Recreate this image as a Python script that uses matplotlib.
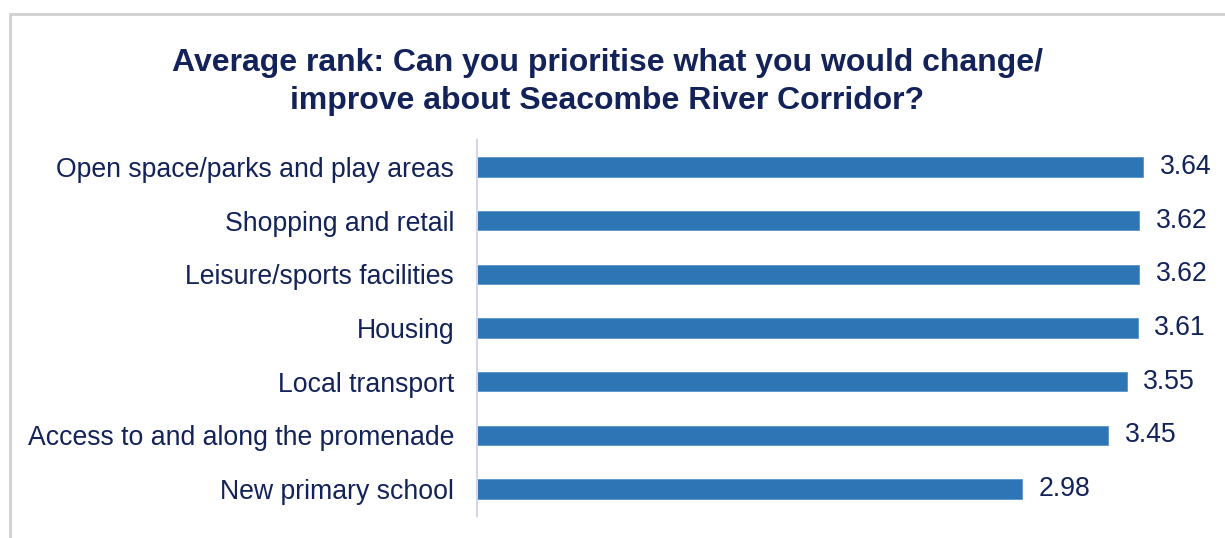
import matplotlib
matplotlib.use("Agg")
from matplotlib import pyplot as plt
from matplotlib.patches import Rectangle

categories = [
    "Open space/parks and play areas",
    "Shopping and retail",
    "Leisure/sports facilities",
    "Housing",
    "Local transport",
    "Access to and along the promenade",
    "New primary school",
]
values = [3.64, 3.62, 3.62, 3.61, 3.55, 3.45, 2.98]
value_labels = ["3.64", "3.62", "3.62", "3.61", "3.55", "3.45", "2.98"]

plt.rcParams['font.family'] = ['Liberation Sans', 'DejaVu Sans']
navy = '#13235A'
bar_color = '#2E75B6'

fig = plt.figure(figsize=(12.25, 5.38), dpi=100)
fig.patches.append(Rectangle((10/1225, -0.1), 1.2, (538-14)/538 + 0.1,
                             transform=fig.transFigure, fill=False,
                             edgecolor='#D0D0D0', linewidth=2))

ax = fig.add_axes([477/1225, 1-516/538, (1209-477)/1225, (516-140)/538])
y = list(range(len(categories)))
ax.barh(y, values, height=0.36, color=bar_color, edgecolor='#5A95CC', linewidth=0.6)
ax.set_xlim(0, 4)
ax.set_ylim(len(categories)-0.5, -0.5)
ax.set_yticks(y)
ax.set_yticklabels(categories, fontsize=19.2, color=navy)
ax.tick_params(axis='y', length=0, pad=16.5)
ax.set_xticks([])
for s in ['top', 'right', 'bottom']:
    ax.spines[s].set_visible(False)
ax.spines['left'].set_color('#D4D4EC')
ax.spines['left'].set_linewidth(1.5)

for yi, v, lab in zip(y, values, value_labels):
    ax.annotate(lab, (v, yi), xytext=(12, 0), textcoords='offset points',
                va='center', ha='left', fontsize=19.2, color=navy)

fig.text(607/1225, 1-82/538,
         "Average rank: Can you prioritise what you would change/\nimprove about Seacombe River Corridor?",
         ha='center', va='center', fontsize=23, fontweight='bold', color=navy,
         linespacing=1.32)

fig.savefig("out.png", dpi=100)
